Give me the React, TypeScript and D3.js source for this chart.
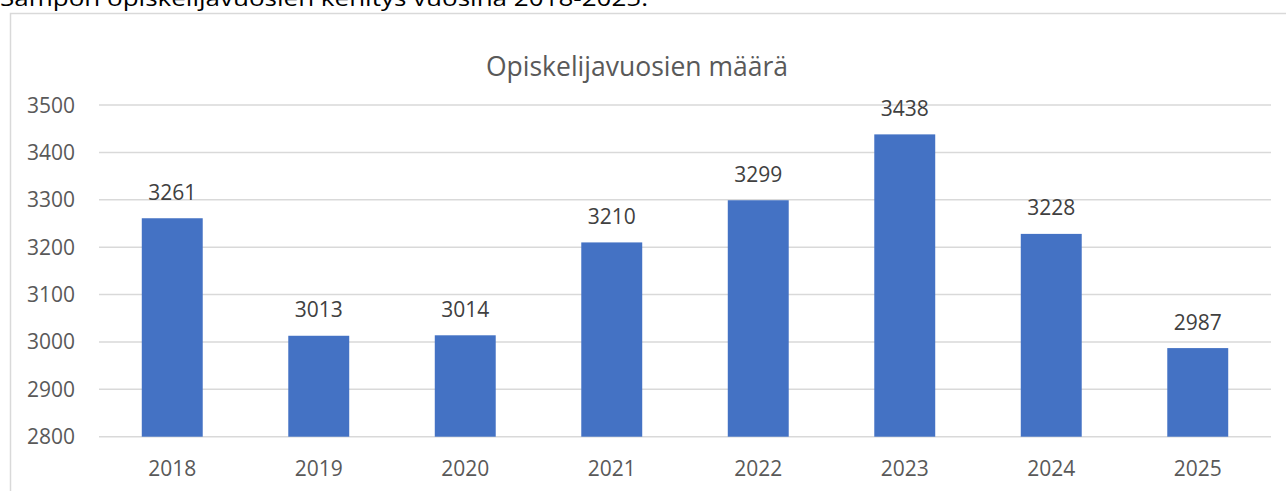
import React from "react";
import * as d3 from "d3";

const years = ["2018", "2019", "2020", "2021", "2022", "2023", "2024", "2025"];
const values = [3261, 3013, 3014, 3210, 3299, 3438, 3228, 2987];
const yTicks = [2800, 2900, 3000, 3100, 3200, 3300, 3400, 3500];
const chartTitle = "Opiskelijavuosien määrä";
const caption = "Sampon opiskelijavuosien kehitys vuosina 2018-2025.";

export default function App() {
  const W = 1286;
  const H = 491;
  const left = 99;
  const right = 1271;
  const top = 105;
  const bottom = 436.7;
  const font = "'Open Sans', sans-serif";

  const x = d3.scaleBand<string>().domain(years).range([left, right]).paddingInner(0.584).paddingOuter(0.292);
  const y = d3.scaleLinear().domain([2800, 3500]).range([bottom, top]);
  const bw = x.bandwidth();

  return (
    <div style={{ position: "fixed", left: 0, top: 0, width: W, height: H, background: "#fff" }}>
      <svg width={W} height={H} style={{ display: "block" }}>
        <rect x={0} y={0} width={W} height={H} fill="#fff" />
        <text x={0} y={6} fontFamily={font} fontSize={21} fill="#000" textLength={648} lengthAdjust="spacingAndGlyphs">
          {caption}
        </text>
        <rect x={10.5} y={13.5} width={W + 20} height={H + 20} fill="none" stroke="#d9d9d9" strokeWidth={1.5} />
        <text x={637} y={76} textAnchor="middle" fontFamily={font} fontSize={26.5} fill="#595959">
          {chartTitle}
        </text>
        {yTicks.map((t) => (
          <g key={t}>
            <line x1={left} x2={right} y1={y(t)} y2={y(t)} stroke="#d9d9d9" strokeWidth={1.5} />
            <text x={75} y={y(t) + 7.5} textAnchor="end" fontFamily={font} fontSize={21} fill="#595959">
              {t}
            </text>
          </g>
        ))}
        {years.map((yr, i) => {
          const cx = (x(yr) as number) + bw / 2;
          return (
            <g key={yr}>
              <rect x={x(yr)} y={y(values[i])} width={bw} height={bottom - y(values[i])} fill="#4472C4" />
              <text x={cx} y={y(values[i]) - 18.5} textAnchor="middle" fontFamily={font} fontSize={21} fill="#404040">
                {values[i]}
              </text>
              <text x={cx} y={476} textAnchor="middle" fontFamily={font} fontSize={21} fill="#595959">
                {yr}
              </text>
            </g>
          );
        })}
      </svg>
    </div>
  );
}
